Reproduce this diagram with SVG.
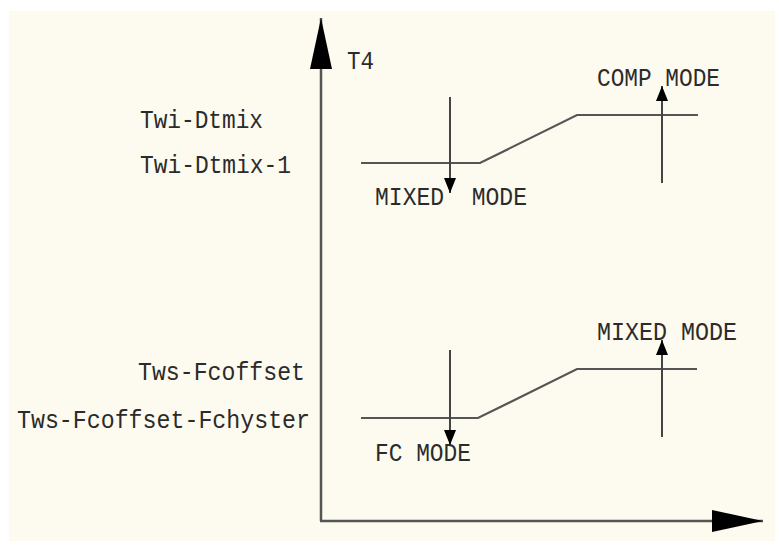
<svg xmlns="http://www.w3.org/2000/svg" width="779" height="545" viewBox="0 0 779 545">
<style>
.lbl{font-family:"Liberation Mono","DejaVu Sans Mono",monospace;font-size:26px;fill:#2b2b2b;white-space:pre}
.ax{stroke:#555;stroke-width:2.5;fill:none}
.cv{stroke:#555;stroke-width:2.2;fill:none}
.ar{stroke:#444;stroke-width:2;fill:none}
</style>
<defs>
<marker id="bigHead" markerUnits="userSpaceOnUse" markerWidth="52" markerHeight="24" refX="51" refY="12" orient="auto" viewBox="0 0 52 24">
<path d="M0,1 L51,12 L0,23 z" fill="#000"/>
</marker>
<marker id="smallHead" markerUnits="userSpaceOnUse" markerWidth="16" markerHeight="14" refX="15" refY="7" orient="auto" viewBox="0 0 16 14">
<path d="M0,1 L15,7 L0,13 z" fill="#000"/>
</marker>
</defs>
<rect x="0" y="0" width="779" height="545" fill="#ffffff"/>
<rect x="9" y="11" width="766" height="530" fill="#fdfbef"/>
<g id="axes">
<line class="ax" x1="321" y1="521" x2="321" y2="18" marker-end="url(#bigHead)"/>
<line class="ax" x1="320" y1="521" x2="763" y2="521" marker-end="url(#bigHead)"/>
</g>
<g id="connectors">
<polyline class="cv" points="361,163 480,163 577,115 698,115"/>
<polyline class="cv" points="361,418 478,418 577,369 697,369"/>
<line class="ar" x1="450" y1="97" x2="450" y2="193" marker-end="url(#smallHead)"/>
<line class="ar" x1="662" y1="183" x2="662" y2="86" marker-end="url(#smallHead)"/>
<line class="ar" x1="450" y1="350" x2="450" y2="445" marker-end="url(#smallHead)"/>
<line class="ar" x1="662" y1="437" x2="662" y2="340" marker-end="url(#smallHead)"/>
</g>
<g id="labels">
<text id="t4" class="lbl" x="347" y="69" textLength="27" lengthAdjust="spacingAndGlyphs">T4</text>
<text id="twi1" class="lbl" x="140" y="128" textLength="123" lengthAdjust="spacingAndGlyphs">Twi-Dtmix</text>
<text id="twi2" class="lbl" x="140" y="173" textLength="151" lengthAdjust="spacingAndGlyphs">Twi-Dtmix-1</text>
<text id="mixed1" class="lbl" x="375" y="205" textLength="152" lengthAdjust="spacingAndGlyphs">MIXED  MODE</text>
<text id="comp" class="lbl" x="597" y="86" textLength="123" lengthAdjust="spacingAndGlyphs">COMP MODE</text>
<text id="tws1" class="lbl" x="138" y="380" textLength="167" lengthAdjust="spacingAndGlyphs">Tws-Fcoffset</text>
<text id="tws2" class="lbl" x="17" y="428" textLength="293" lengthAdjust="spacingAndGlyphs">Tws-Fcoffset-Fchyster</text>
<text id="fc" class="lbl" x="375" y="461" textLength="96" lengthAdjust="spacingAndGlyphs">FC MODE</text>
<text id="mixed2" class="lbl" x="597" y="340" textLength="140" lengthAdjust="spacingAndGlyphs">MIXED MODE</text>
</g>
</svg>
